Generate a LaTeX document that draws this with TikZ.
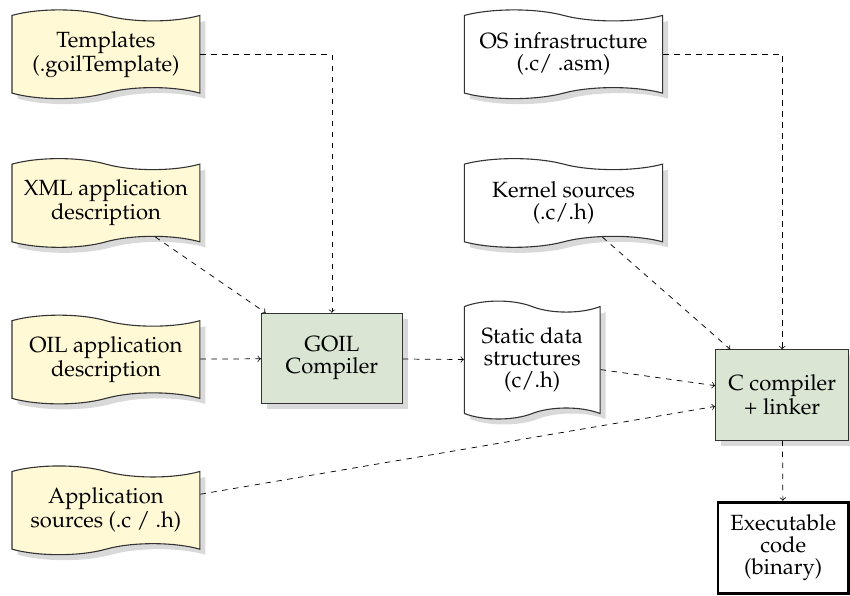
\documentclass[tikz,border=0pt]{standalone}
\usepackage[T1]{fontenc}
\usepackage{mathpazo}
\usepackage{tikz}
\usetikzlibrary{shapes.symbols,shadows}
\definecolor{docyellow}{RGB}{255,249,214}
\definecolor{toolgreen}{RGB}{218,230,211}
\begin{document}
\begin{tikzpicture}[font=\fontsize{12}{12}\selectfont,
    doc/.style={tape, draw=black!80, semithick, align=center, tape bend height=6pt,
        tape bend top=out and in, tape bend bottom=in and out,
        minimum width=3.6cm, minimum height=1.70cm,
        drop shadow={shadow xshift=3pt, shadow yshift=-3pt, fill=black!15, opacity=1}},
    src/.style={doc, fill=docyellow},
    gen/.style={doc, fill=white},
    tool/.style={rectangle, draw=black!80, semithick, fill=toolgreen, align=center,
        minimum width=2.7cm, minimum height=1.73cm,
        drop shadow={shadow xshift=3pt, shadow yshift=-3pt, fill=black!15, opacity=1}},
    flow/.style={->, dashed}]
    \useasboundingbox (0,0) rectangle (16.29,-11.41);
    % inputs of the application
    \draw (2.03,-1.04) node[src] (tmpl) {Templates\\(.goilTemplate)};
    \draw (2.03,-3.89) node[src] (xml)  {XML application\\description};
    \draw (2.03,-6.89) node[src] (oil)  {OIL application\\description};
    \draw (2.03,-9.78) node[src] (app)  {Application\\sources (.c / .h)};
    % kernel side
    \draw (10.80,-1.04) node[gen, minimum width=3.8cm] (os)     {OS infrastructure\\(.c/ .asm)};
    \draw (10.80,-3.89) node[gen, minimum width=3.8cm] (kernel) {Kernel sources\\(.c/.h)};
    \draw (10.20,-6.90) node[gen, minimum width=2.6cm, minimum height=2.26cm] (static)
        {Static data\\structures\\(c/.h)};
    % tools
    \draw (6.36,-6.87) node[tool] (goil) {GOIL\\Compiler};
    \draw (14.99,-7.57) node[tool, minimum width=2.55cm] (cc) {C compiler\\+ linker};
    \draw (15.01,-10.50) node[rectangle, draw, ultra thick, align=center,
        minimum width=2.5cm, minimum height=1.75cm] (exe) {Executable\\code\\(binary)};
    % flows
    \draw[flow] (tmpl) -| (goil);
    \draw[flow] (xml) -- (goil);
    \draw[flow] (oil) -- (goil);
    \draw[flow] (goil) -- (static);
    \draw[flow] (static) -- (cc);
    \draw[flow] (app) -- (cc);
    \draw[flow] (kernel) -- (cc);
    \draw[flow] (os) -| (cc);
    \draw[flow] (cc) -- (exe);
\end{tikzpicture}
\end{document}
